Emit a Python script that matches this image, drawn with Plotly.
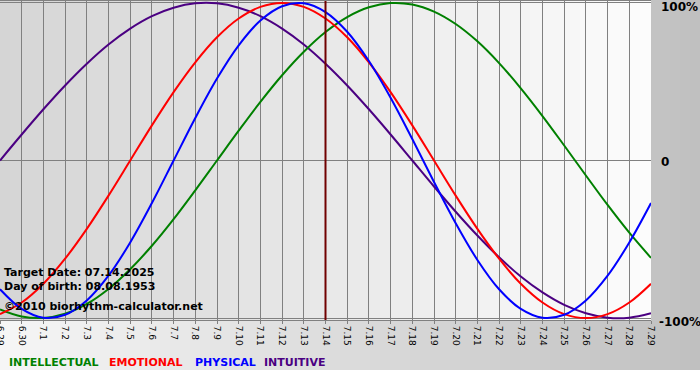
import plotly.graph_objects as go

# ---------------- data ----------------
DATES = ["6.29", "6.30"] + [f"7.{d}" for d in range(1, 30)]

PHYSICAL = [-0.817, -0.942, -0.998, -0.979, -0.888, -0.731, -0.520, -0.270,
            0.000, 0.270, 0.520, 0.731, 0.888, 0.979, 0.998, 0.942, 0.817,
            0.631, 0.398, 0.136, -0.136, -0.398, -0.631, -0.817, -0.942,
            -0.998, -0.979, -0.888, -0.731, -0.520, -0.270]

EMOTIONAL = [-0.975, -0.901, -0.782, -0.623, -0.434, -0.223, 0.000, 0.223,
             0.434, 0.623, 0.782, 0.901, 0.975, 1.000, 0.975, 0.901, 0.782,
             0.623, 0.434, 0.223, 0.000, -0.223, -0.434, -0.623, -0.782,
             -0.901, -0.975, -1.000, -0.975, -0.901, -0.782]

INTELLECTUAL = [-0.945, -0.990, -0.999, -0.972, -0.910, -0.815, -0.690, -0.541,
                -0.372, -0.189, 0.000, 0.189, 0.372, 0.541, 0.690, 0.815, 0.910,
                0.972, 0.999, 0.990, 0.945, 0.866, 0.756, 0.618, 0.458, 0.282,
                0.095, -0.095, -0.282, -0.458, -0.618]

INTUITIVE = [0.000, 0.165, 0.325, 0.476, 0.614, 0.736, 0.837, 0.916, 0.969,
             0.997, 0.997, 0.969, 0.916, 0.837, 0.736, 0.614, 0.476, 0.325,
             0.165, 0.000, -0.165, -0.325, -0.476, -0.614, -0.736, -0.837,
             -0.916, -0.969, -0.997, -0.997, -0.969]

SERIES_NAMES = ["INTELLECTUAL", "EMOTIONAL", "PHYSICAL", "INTUITIVE"]
TARGET_DATE_LABEL = "7.14"
Y_TICK_VALUES = [1, 0, -1]
Y_TICK_TEXT = ["100%", "0", "-100%"]
INFO_LINES = ["Target Date: 07.14.2025", "Day of birth: 08.08.1953",
              "©2010 biorhythm-calculator.net"]

# ---------------- styling ----------------
W, H = 700, 380
ML, MR, MT, MB = 0, 49, 1, 60
PW, PH = W - ML - MR, H - MT - MB
FONT = "DejaVu Sans"
COLORS = {"INTELLECTUAL": "#008000", "EMOTIONAL": "#ff0000",
          "PHYSICAL": "#0000ff", "INTUITIVE": "#4b0082"}
VALUES = {"INTELLECTUAL": INTELLECTUAL, "EMOTIONAL": EMOTIONAL,
          "PHYSICAL": PHYSICAL, "INTUITIVE": INTUITIVE}


def px(x):
    return (x - ML) / PW


def py(y):
    return (H - MB - y) / PH


def gray(v):
    v = int(round(v))
    return f"rgb({v},{v},{v})"


shapes = []
# outer background gradient
step = 10
for x0 in range(0, W, step):
    t = (x0 + step / 2) / W
    shapes.append(dict(type="rect", xref="paper", yref="paper",
                       x0=px(x0), x1=px(x0 + step + 1), y0=py(370), y1=py(0),
                       fillcolor=gray(246 - 54 * t), line_width=0, layer="below"))
# plot area gradient
for x0 in range(0, PW, step):
    t = (x0 + step / 2) / PW
    shapes.append(dict(type="rect", xref="paper", yref="paper",
                       x0=px(x0), x1=min(1, px(x0 + step + 1)), y0=0, y1=1,
                       fillcolor=gray(213 + 39 * t), line_width=0, layer="below"))
# target date line (category index of the target date)
target_idx = DATES.index(TARGET_DATE_LABEL)
shapes.append(dict(type="line", xref="x", yref="paper",
                   x0=target_idx, x1=target_idx, y0=0, y1=1,
                   line=dict(color="#700000", width=2), layer="above"))

fig = go.Figure()
for name in ["INTUITIVE", "INTELLECTUAL", "EMOTIONAL", "PHYSICAL"]:
    fig.add_trace(go.Scatter(x=DATES, y=VALUES[name], mode="lines", name=name,
                             line=dict(color=COLORS[name], width=2,
                                       shape="spline", smoothing=1.0),
                             hoverinfo="skip"))

annotations = []
for txt, yc in zip(INFO_LINES, [272.5, 286.5, 306.5]):
    annotations.append(dict(text=txt, xref="paper", yref="paper",
                            x=px(2), y=py(yc), xanchor="left", yanchor="middle",
                            showarrow=False,
                            font=dict(family=FONT, size=11, color="#000000",
                                      weight="bold")))
for txt, xl, yc in zip(Y_TICK_TEXT, [659, 659, 657], [7, 162, 322]):
    annotations.append(dict(text=txt, xref="paper", yref="paper",
                            x=px(xl), y=py(yc), xanchor="left", yanchor="middle",
                            showarrow=False,
                            font=dict(family=FONT, size=12, color="#000000",
                                      weight="bold")))
for name, xl in zip(SERIES_NAMES, [7, 107, 193, 262]):
    annotations.append(dict(text=name, xref="paper", yref="paper",
                            x=px(xl), y=py(362), xanchor="left", yanchor="middle",
                            showarrow=False,
                            font=dict(family=FONT, size=11, color=COLORS[name],
                                      weight="bold")))

fig.update_layout(
    width=W, height=H,
    margin=dict(l=ML, r=MR, t=MT, b=MB, pad=0, autoexpand=False),
    paper_bgcolor="#ffffff", plot_bgcolor="rgba(0,0,0,0)",
    showlegend=False,
    shapes=shapes, annotations=annotations,
    xaxis=dict(type="category", range=[0, len(DATES) - 1], automargin=False,
               tickmode="array", tickvals=DATES, ticktext=DATES,
               tickangle=90, ticks="outside", ticklen=3, tickcolor="#808080",
               tickfont=dict(family=FONT, size=9, color="#000000"),
               showgrid=True, gridcolor="#808080", gridwidth=1,
               showline=True, mirror=True, linecolor="#808080", linewidth=1,
               zeroline=False, fixedrange=True),
    yaxis=dict(range=[-1.012, 1.012], tickvals=Y_TICK_VALUES, automargin=False,
               showticklabels=False, showgrid=True, gridcolor="#808080",
               gridwidth=1, zeroline=False, showline=False, fixedrange=True),
)

fig.write_html("out.html", config={"displayModeBar": False},
               post_script="document.body.style.margin='0';"
                           "document.body.style.overflow='hidden';")
